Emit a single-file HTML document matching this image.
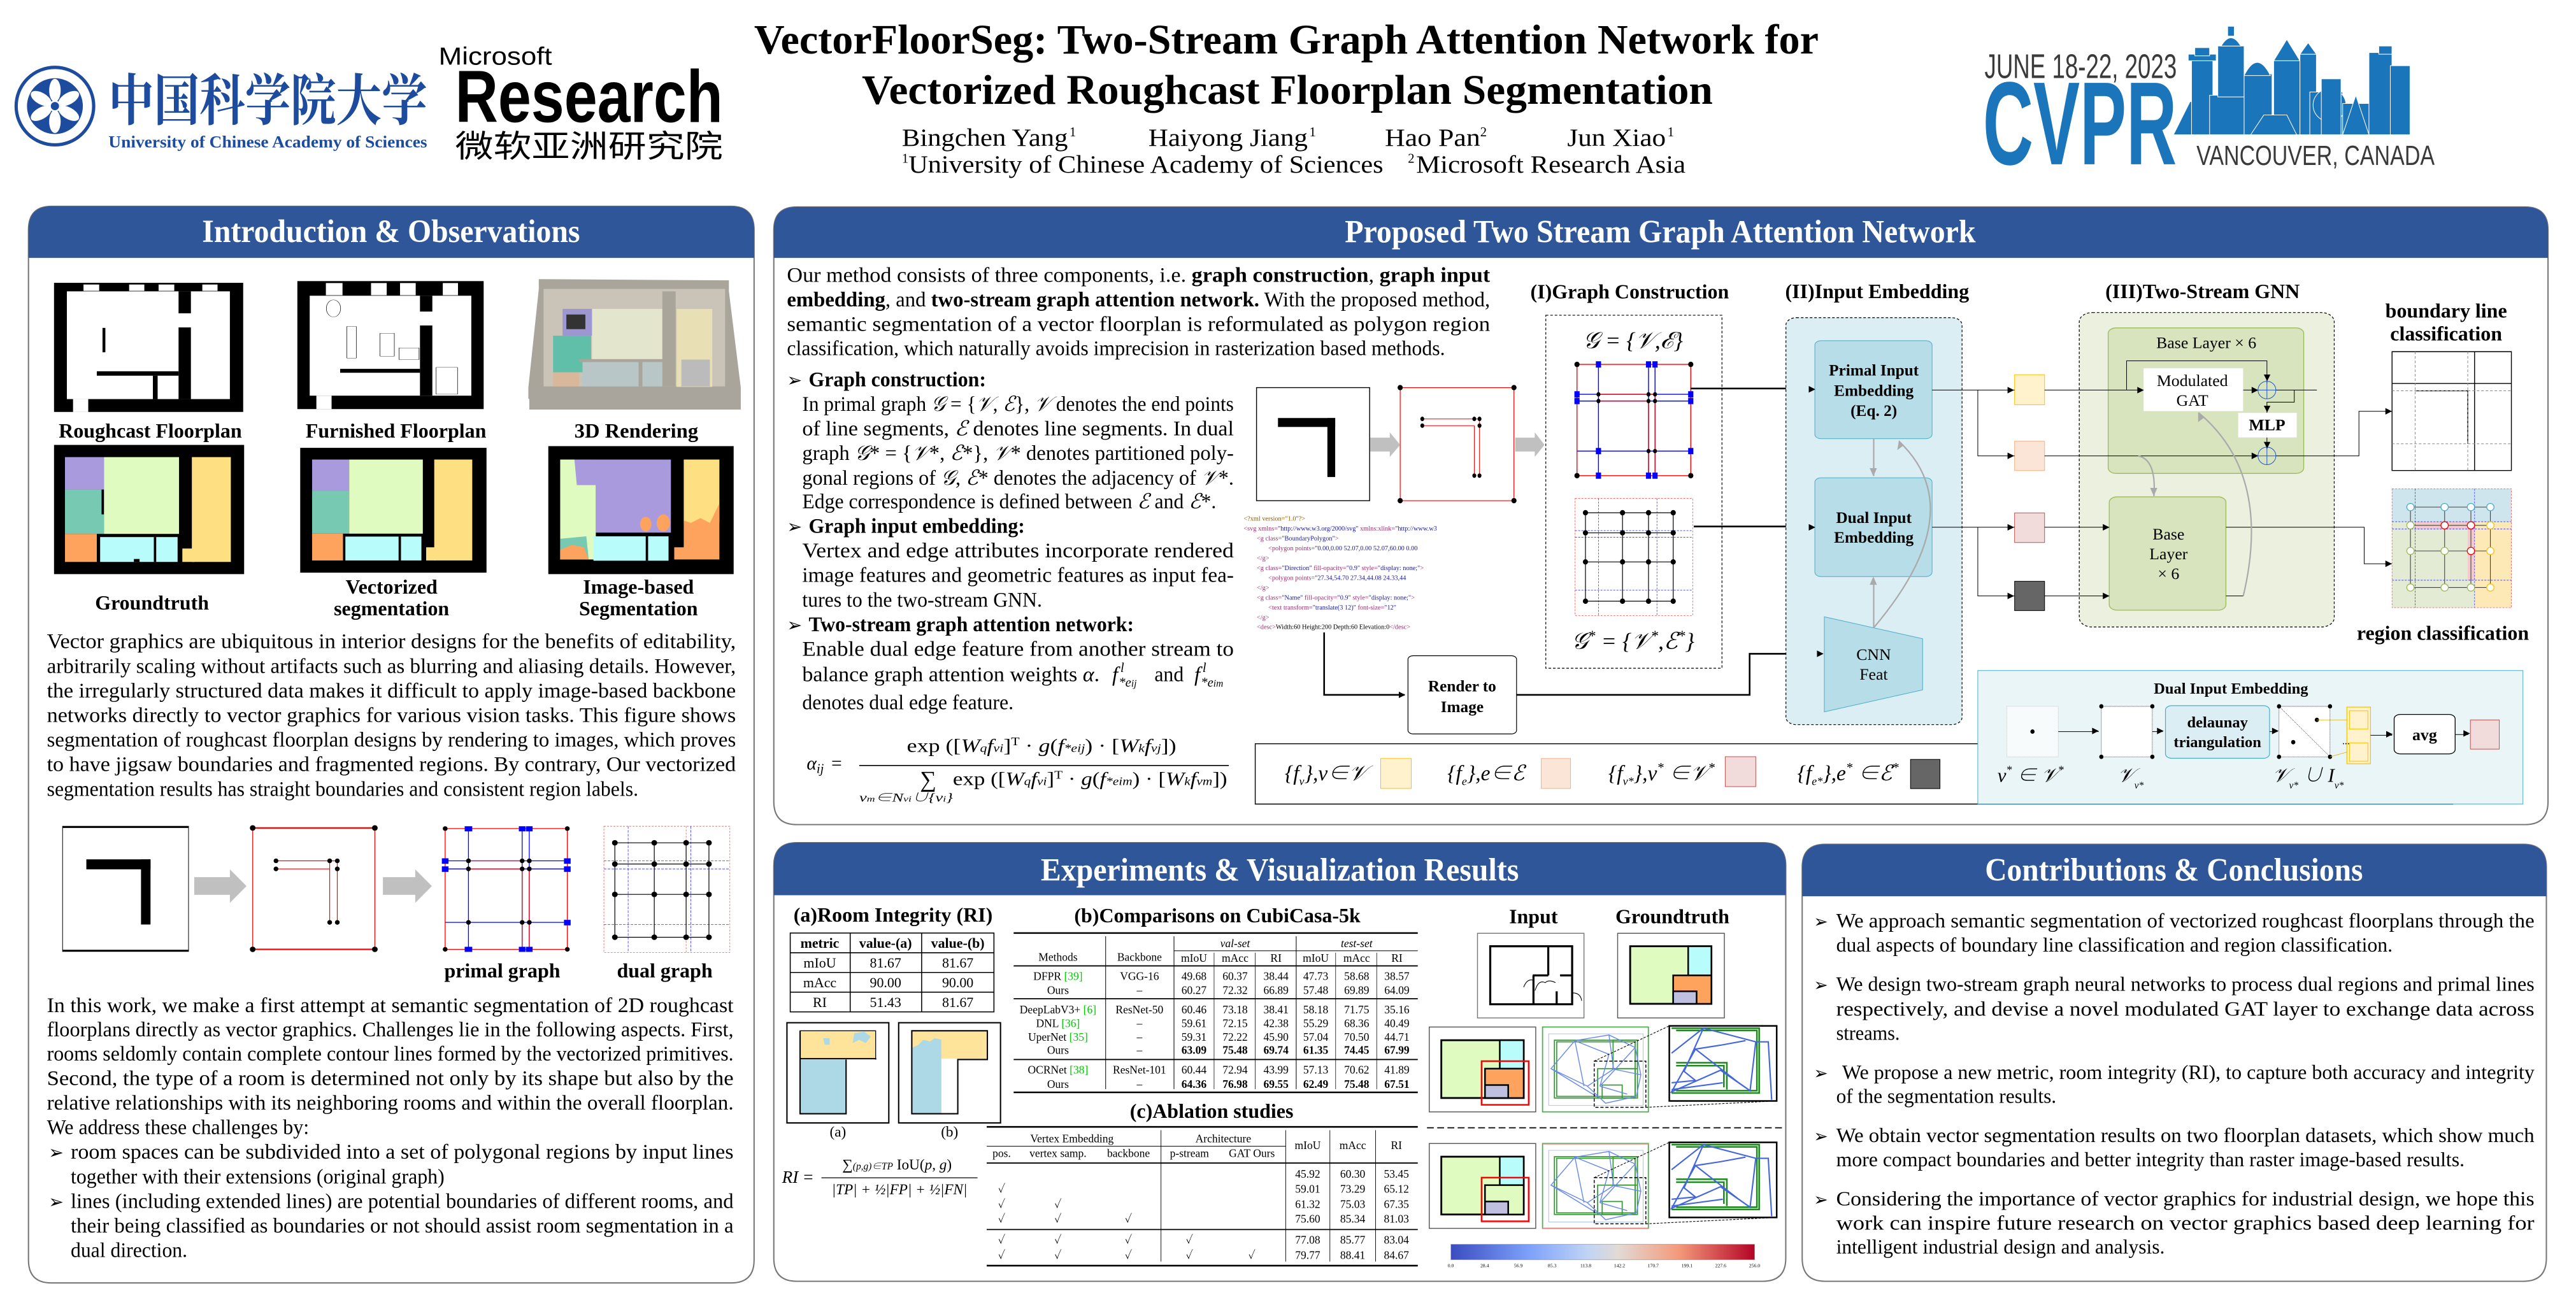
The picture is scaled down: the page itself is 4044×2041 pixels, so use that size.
<!DOCTYPE html>
<html><head><meta charset="utf-8">
<style>
html,body{margin:0;padding:0;background:#fff;}
svg{display:block;}
text{font-family:"Liberation Serif","Noto Serif CJK SC",serif;fill:#000;}
.ns *{vector-effect:non-scaling-stroke;}
.b{font-weight:bold;}
.h{font-weight:bold;fill:#fff;font-size:19.5px;}
.t{font-size:12.6px;}
.lb{font-weight:bold;font-size:12.4px;}
.tb{font-size:6.8px;}
.i{font-style:italic;}
.mono{font-family:"Liberation Mono",monospace;font-size:4px;}
</style></head>
<body>
<svg width="4044" height="2041" viewBox="0 0 1568 791.4" xmlns="http://www.w3.org/2000/svg">
<defs>
<linearGradient id="cb" x1="0" x2="1" y1="0" y2="0">
<stop offset="0" stop-color="#3b4cc0"/><stop offset="0.25" stop-color="#7b9ff9"/><stop offset="0.45" stop-color="#c0d4f5"/><stop offset="0.55" stop-color="#e2dad5"/><stop offset="0.75" stop-color="#f49a7b"/><stop offset="1" stop-color="#b40426"/>
</linearGradient>
<marker id="ah" viewBox="0 0 10 10" refX="9" refY="5" markerWidth="4" markerHeight="4" orient="auto"><path d="M0,0L10,5L0,10z" fill="#000"/></marker>
</defs>

<!-- ================= HEADER ================= -->
<circle cx="33.4" cy="64.6" r="23.6" fill="#fff" stroke="#1d4c9e" stroke-width="2"/>
<circle cx="33.4" cy="64.6" r="17" fill="#1d4c9e"/>
<g fill="#fff"><ellipse cx="33.4" cy="55" rx="3.5" ry="7"/><ellipse cx="33.4" cy="74" rx="3.5" ry="7"/><ellipse cx="25" cy="60" rx="3.5" ry="7" transform="rotate(-60 25 60)"/><ellipse cx="41.8" cy="60" rx="3.5" ry="7" transform="rotate(60 41.8 60)"/><ellipse cx="25" cy="69" rx="3.5" ry="7" transform="rotate(60 25 69)"/><ellipse cx="41.8" cy="69" rx="3.5" ry="7" transform="rotate(-60 41.8 69)"/></g>
<circle cx="33.4" cy="64.6" r="3" fill="#1d4c9e" stroke="#fff" stroke-width="1"/>
<text x="66" y="73" font-size="34" font-weight="bold" style="fill:#1d4c9e;font-family:'Noto Serif CJK SC','WenQuanYi Zen Hei',serif" textLength="194" lengthAdjust="spacingAndGlyphs">中国科学院大学</text>
<text x="66" y="89.8" font-size="10.3" class="b" style="fill:#1d4c9e" textLength="194" lengthAdjust="spacingAndGlyphs">University of  Chinese Academy of Sciences</text>
<text x="267" y="39.4" font-size="15" style="font-family:'Liberation Sans',sans-serif" textLength="69" lengthAdjust="spacingAndGlyphs">Microsoft</text>
<text x="277" y="74.3" font-size="45" font-weight="bold" style="font-family:'Liberation Sans',sans-serif" textLength="163" lengthAdjust="spacingAndGlyphs">Research</text>
<text x="277" y="95.5" font-size="19" style="font-family:'Noto Sans CJK SC','WenQuanYi Zen Hei',sans-serif" textLength="163" lengthAdjust="spacingAndGlyphs">微软亚洲研究院</text>

<text x="459" y="32.6" font-size="25.5" class="b" textLength="648" lengthAdjust="spacingAndGlyphs">VectorFloorSeg: Two-Stream Graph Attention Network for</text>
<text x="524.6" y="63.3" font-size="25.5" class="b" textLength="518" lengthAdjust="spacingAndGlyphs">Vectorized  Roughcast Floorplan Segmentation</text>
<g font-size="15">
<text x="549" y="88.8" textLength="101" lengthAdjust="spacingAndGlyphs">Bingchen Yang</text><text x="651" y="83" font-size="8">1</text>
<text x="699" y="88.8" textLength="97" lengthAdjust="spacingAndGlyphs">Haiyong Jiang</text><text x="797" y="83" font-size="8">1</text>
<text x="843" y="88.8" textLength="58" lengthAdjust="spacingAndGlyphs">Hao Pan</text><text x="901" y="83" font-size="8">2</text>
<text x="954" y="88.8" textLength="60" lengthAdjust="spacingAndGlyphs">Jun Xiao</text><text x="1015" y="83" font-size="8">1</text>
<text x="549" y="99" font-size="8">1</text><text x="553" y="105" textLength="289" lengthAdjust="spacingAndGlyphs">University of Chinese Academy of Sciences</text>
<text x="857" y="99" font-size="8">2</text><text x="862" y="105" textLength="164" lengthAdjust="spacingAndGlyphs">Microsoft Research Asia</text>
</g>

<!-- CVPR -->
<text x="1208" y="47.5" font-size="21" style="font-family:'Liberation Sans',sans-serif;fill:#3a3a3a" textLength="117" lengthAdjust="spacingAndGlyphs">JUNE 18-22, 2023</text>
<text x="1207" y="100" font-size="72" font-weight="bold" style="font-family:'Liberation Sans',sans-serif;fill:#1b75bb" textLength="118" lengthAdjust="spacingAndGlyphs">CVPR</text>
<text x="1337" y="100.5" font-size="17" style="font-family:'Liberation Sans',sans-serif;fill:#3a3a3a" textLength="145" lengthAdjust="spacingAndGlyphs">VANCOUVER, CANADA</text>
<g fill="#1b75bb" stroke="#fff" stroke-width="0.4">
<path d="M1323,82 L1333,62 L1345,58 L1345,82z"/>
<rect x="1334" y="36" width="13" height="46"/><rect x="1332" y="33" width="17" height="4"/><rect x="1336" y="29" width="9" height="5"/>
<rect x="1345" y="58" width="22" height="24"/>
<rect x="1350" y="28" width="16" height="31"/><path d="M1352,28 Q1358,18 1364,28z"/><rect x="1356" y="16" width="4" height="6"/>
<rect x="1366" y="45" width="17" height="37"/><path d="M1366,46 Q1374,30 1382,46z"/>
<rect x="1384" y="37" width="16" height="45"/><path d="M1384,37 L1392,24 L1400,37z"/>
<rect x="1400" y="33" width="10" height="49"/><path d="M1400,33 L1405,26 L1410,33z"/>
<rect x="1406" y="56" width="20" height="26"/><circle cx="1418" cy="64" r="10"/>
<rect x="1413" y="48" width="12" height="34"/>
<rect x="1426" y="63" width="16" height="19"/><path d="M1426,82 L1434,58 L1442,82z"/>
<rect x="1442" y="32" width="14" height="50"/><rect x="1448" y="28" width="8" height="5"/>
<rect x="1455" y="40" width="12" height="42"/>
<path d="M1370,82 L1378,70 L1392,70 L1398,82z"/>
</g>

<!-- ================= LEFT PANEL ================= -->
<path d="M17.3,140 Q17.3,125.6 31.3,125.6 L445,125.6 Q459,125.6 459,140 L459,767 Q459,781 445,781 L31.3,781 Q17.3,781 17.3,767z" fill="#fff" stroke="#777" stroke-width="0.8"/>
<path d="M17.3,140 Q17.3,125.6 31.3,125.6 L445,125.6 Q459,125.6 459,140 L459,157 L17.3,157z" fill="#30569a"/>
<text x="123" y="147.3" class="h" textLength="230" lengthAdjust="spacingAndGlyphs">Introduction &amp; Observations</text>

<g transform="translate(15.5,155.1) scale(0.2893,0.1484)">
 <rect x="60" y="115" width="398" height="530" fill="#000"/>
 <rect x="87" y="150" width="343" height="442" fill="#fff"/>
 <g fill="#fff"><rect x="122" y="122" width="33" height="26"/><rect x="218" y="122" width="32" height="26"/><rect x="280" y="122" width="33" height="26"/><rect x="372" y="122" width="32" height="26"/></g>
 <rect x="322" y="150" width="26" height="90" fill="#000"/><rect x="322" y="298" width="26" height="294" fill="#000"/>
 <rect x="150" y="478" width="172" height="18" fill="#000"/>
 <rect x="268" y="496" width="10" height="96" fill="#000"/>
 <rect x="162" y="300" width="6" height="100" fill="#000"/>
 <rect x="100" y="592" width="32" height="53" fill="#fff"/>
 <rect x="56" y="645" width="402" height="15" fill="#fff"/>
 <rect x="572" y="108" width="392" height="525" fill="#000"/>
 <rect x="598" y="168" width="340" height="410" fill="#fff"/>
 <g fill="#fff"><rect x="632" y="116" width="35" height="50"/><rect x="727" y="116" width="33" height="50"/><rect x="788" y="116" width="33" height="50"/><rect x="878" y="116" width="32" height="50"/></g>
 <rect x="830" y="168" width="26" height="65" fill="#000"/><rect x="830" y="290" width="26" height="288" fill="#000"/>
 <rect x="662" y="468" width="168" height="16" fill="#000"/>
 <g fill="none" stroke="#000" stroke-width="1"><ellipse cx="648" cy="220" rx="15" ry="35"/><rect x="676" y="294" width="20" height="130"/><rect x="746" y="322" width="30" height="94"/><rect x="864" y="462" width="45" height="110"/><rect x="786" y="382" width="42" height="48"/></g>
 <rect x="612" y="578" width="32" height="55" fill="#fff"/>
 <rect x="568" y="640" width="400" height="12" fill="#fff"/>
 <path d="M1080,100 L1480,105 L1480,150 L1505,545 L1500,600 L1475,635 L1100,635 L1058,590 L1058,545 L1080,140z" fill="#aaa59b"/>
 <rect x="1090" y="140" width="382" height="400" fill="#c9c4b7"/>
 <rect x="1130" y="222" width="62" height="110" fill="#9d97d1"/>
 <rect x="1110" y="332" width="80" height="150" fill="#5fbfa8"/>
 <rect x="1192" y="222" width="148" height="208" fill="#e3e6cc"/>
 <rect x="1370" y="222" width="75" height="320" fill="#e8e0b4"/>
 <rect x="1172" y="440" width="170" height="100" fill="#b8c6c8"/>
 <rect x="1110" y="482" width="55" height="58" fill="#d8b79a"/>
 <rect x="1340" y="150" width="28" height="390" fill="#aaa59b"/>
 <rect x="1165" y="428" width="180" height="12" fill="#aaa59b"/>
 <rect x="1290" y="440" width="8" height="100" fill="#aaa59b"/>
 <rect x="1138" y="245" width="40" height="60" fill="#333"/>
 <rect x="1380" y="430" width="60" height="110" fill="#bbb"/>
 <rect x="1060" y="545" width="445" height="90" fill="#a9a59c"/>
 <rect x="60" y="780" width="400" height="530" fill="#000"/>
 <rect x="83" y="830" width="82" height="133" fill="#a99ade"/>
 <rect x="83" y="963" width="82" height="182" fill="#77cab1"/>
 <rect x="165" y="830" width="158" height="315" fill="#e0fbbf"/>
 <rect x="160" y="963" width="5" height="102" fill="#000"/>
 <rect x="350" y="830" width="82" height="430" fill="#fee083"/>
 <rect x="330" y="1205" width="25" height="55" fill="#fee083"/>
 <rect x="83" y="1145" width="67" height="115" fill="#fda35e"/>
 <rect x="157" y="1158" width="163" height="102" fill="#b8fcfc"/>
 <rect x="270" y="1158" width="5" height="102" fill="#000"/>
 <rect x="228" y="1248" width="12" height="12" fill="#000"/>
 <rect x="578" y="792" width="392" height="512" fill="#000"/>
 <rect x="603" y="840" width="78" height="128" fill="#a99ade"/>
 <rect x="603" y="968" width="78" height="176" fill="#77cab1"/>
 <rect x="681" y="840" width="155" height="304" fill="#e0fbbf"/>
 <rect x="860" y="840" width="80" height="414" fill="#fee083"/>
 <rect x="843" y="1200" width="20" height="54" fill="#fee083"/>
 <rect x="603" y="1144" width="65" height="110" fill="#fda35e"/>
 <rect x="673" y="1156" width="160" height="98" fill="#b8fcfc"/>
 <rect x="785" y="1156" width="5" height="98" fill="#000"/>
 <rect x="1100" y="785" width="390" height="525" fill="#000"/>
 <rect x="1125" y="840" width="75" height="410" fill="#e0fbbf"/>
 <path d="M1155,840 L1358,840 L1358,1140 L1200,1140 L1200,945 L1160,945 z" fill="#a99ade"/>
 <rect x="1385" y="840" width="75" height="260" fill="#fee083"/>
 <path d="M1385,1090 L1400,1100 L1420,1080 L1440,1100 L1460,1020 L1460,1250 L1365,1250 L1365,1200 L1385,1200z" fill="#fda35e"/>
 <rect x="1195" y="1155" width="158" height="100" fill="#b8fcfc"/>
 <rect x="1305" y="1155" width="5" height="100" fill="#000"/>
 <path d="M1125,1165 L1180,1155 L1185,1250 L1125,1250z" fill="#77cab1"/>
 <path d="M1125,1210 L1150,1190 L1175,1200 L1185,1250 L1125,1250z" fill="#fda35e"/>
 <ellipse cx="1305" cy="1105" rx="12" ry="30" fill="#fda35e"/><ellipse cx="1342" cy="1100" rx="14" ry="35" fill="#fda35e"/>
</g>
<g class="lb">
<text x="35.7" y="266.4" textLength="111.5" lengthAdjust="spacingAndGlyphs">Roughcast Floorplan</text>
<text x="186" y="266.4" textLength="110" lengthAdjust="spacingAndGlyphs">Furnished Floorplan</text>
<text x="349.6" y="266.4" textLength="75.4" lengthAdjust="spacingAndGlyphs">3D Rendering</text>
<text x="92.5" y="371" text-anchor="middle">Groundtruth</text>
<text x="238.3" y="361.4" text-anchor="middle">Vectorized</text>
<text x="238.3" y="374.5" text-anchor="middle">segmentation</text>
<text x="388.6" y="361.4" text-anchor="middle">Image-based</text>
<text x="388.6" y="374.5" text-anchor="middle">Segmentation</text>
</g>

<g class="t">
<text x="28.5" y="394.6" textLength="419.4" lengthAdjust="spacingAndGlyphs">Vector graphics are ubiquitous in interior designs for the benefits of editability,</text>
<text x="28.5" y="409.6" textLength="419.4" lengthAdjust="spacingAndGlyphs">arbitrarily scaling without artifacts such as blurring and aliasing details. However,</text>
<text x="28.5" y="424.5" textLength="419.4" lengthAdjust="spacingAndGlyphs">the irregularly structured data makes it difficult to apply image-based backbone</text>
<text x="28.5" y="439.5" textLength="419.4" lengthAdjust="spacingAndGlyphs">networks directly to vector graphics for various vision tasks. This figure shows</text>
<text x="28.5" y="454.5" textLength="419.4" lengthAdjust="spacingAndGlyphs">segmentation of roughcast floorplan designs by rendering to images, which proves</text>
<text x="28.5" y="469.4" textLength="419.4" lengthAdjust="spacingAndGlyphs">to have jigsaw boundaries and fragmented regions. By contrary, Our vectorized</text>
<text x="28.5" y="484.4" textLength="360" lengthAdjust="spacingAndGlyphs">segmentation results has straight boundaries and consistent region labels.</text>
</g>

<g class="ns" transform="translate(15.5,492.4) scale(0.2893,0.1292)">
 <rect x="78" y="82" width="265" height="590" fill="#fff" stroke="#000" stroke-width="1"/>
 <rect x="78" y="82" width="265" height="8" fill="#000"/><rect x="78" y="664" width="265" height="8" fill="#000"/>
 <rect x="128" y="238" width="135" height="47" fill="#000"/><rect x="243" y="238" width="20" height="307" fill="#000"/>
 <path d="M355,322 L430,322 L430,285 L465,364 L430,443 L430,405 L355,405z" fill="#c0c0c0"/>
 <path d="M752,322 L820,322 L820,285 L855,364 L820,443 L820,405 L752,405z" fill="#c0c0c0"/>
 <g stroke="#f00" fill="none" stroke-width="1.2">
  <rect x="478" y="90" width="257" height="572"/>
  <path d="M527,245 H656 M527,283 H640 M640,245 V535 M656,245 V535"/>
 </g>
 <g stroke="#f00" stroke-width="2.2"><path d="M478,90 H735 M478,662 H735"/></g>
 <g fill="#000"><ellipse cx="478" cy="90" rx="6" ry="13"/><ellipse cx="735" cy="90" rx="6" ry="13"/><ellipse cx="478" cy="662" rx="6" ry="13"/><ellipse cx="735" cy="662" rx="6" ry="13"/><ellipse cx="527" cy="245" rx="5" ry="11"/><ellipse cx="527" cy="283" rx="5" ry="11"/><ellipse cx="640" cy="245" rx="5" ry="11"/><ellipse cx="656" cy="245" rx="5" ry="11"/><ellipse cx="656" cy="283" rx="5" ry="11"/><ellipse cx="640" cy="535" rx="5" ry="11"/><ellipse cx="656" cy="535" rx="5" ry="11"/></g>
 <g fill="none" stroke-width="1.3">
  <path d="M932,93 V662 M1045,93 V662 M1060,93 V662 M883,245 H1140 M883,283 H1140 M883,535 H1140" stroke="#00f"/>
  <path d="M883,93 H1140 V662 H883z M932,245 H1045 M932,283 H1045 M1045,283 V662 M1060,283 V662" stroke="#f00"/>
 </g>
 <g fill="#00f"><rect x="924" y="82" width="16" height="24"/><rect x="1038" y="82" width="14" height="24"/><rect x="1053" y="82" width="14" height="24"/><rect x="924" y="650" width="16" height="24"/><rect x="1038" y="650" width="14" height="24"/><rect x="1053" y="650" width="14" height="24"/><rect x="876" y="233" width="14" height="26"/><rect x="876" y="271" width="14" height="26"/><rect x="1133" y="233" width="14" height="26"/><rect x="1133" y="271" width="14" height="26"/><rect x="1133" y="523" width="14" height="26"/></g>
 <g fill="#000"><ellipse cx="883" cy="93" rx="5" ry="11"/><ellipse cx="1140" cy="93" rx="5" ry="11"/><ellipse cx="883" cy="662" rx="5" ry="11"/><ellipse cx="1140" cy="662" rx="5" ry="11"/><ellipse cx="932" cy="245" rx="5" ry="11"/><ellipse cx="932" cy="283" rx="5" ry="11"/><ellipse cx="1045" cy="245" rx="5" ry="11"/><ellipse cx="1060" cy="245" rx="5" ry="11"/><ellipse cx="1045" cy="283" rx="5" ry="11"/><ellipse cx="1060" cy="283" rx="5" ry="11"/><ellipse cx="932" cy="535" rx="5" ry="11"/><ellipse cx="1045" cy="535" rx="5" ry="11"/><ellipse cx="1060" cy="535" rx="5" ry="11"/></g>
 <rect x="1217" y="82" width="265" height="595" fill="none" stroke="#f55" stroke-dasharray="3 2" stroke-width="0.8"/>
 <path d="M1268,82 V677 M1400,82 V677 M1217,245 H1482 M1217,283 H1482 M1217,545 H1482" stroke="#33f" stroke-dasharray="4 2" stroke-width="0.8" fill="none"/>
 <path d="M1390,82 V677" stroke="#f55" stroke-dasharray="3 2" stroke-width="0.8"/>
 <path d="M1240,160 H1438 M1240,260 H1438 M1240,403 H1438 M1240,605 H1438 M1240,160 V605 M1323,160 V605 M1390,160 V605 M1438,160 V605" stroke="#000" stroke-width="1.2" fill="none"/>
 <g fill="#000">
  <ellipse cx="1240" cy="160" rx="6" ry="13"/><ellipse cx="1323" cy="160" rx="6" ry="13"/><ellipse cx="1390" cy="160" rx="6" ry="13"/><ellipse cx="1438" cy="160" rx="6" ry="13"/>
  <ellipse cx="1240" cy="260" rx="6" ry="13"/><ellipse cx="1323" cy="260" rx="6" ry="13"/><ellipse cx="1390" cy="260" rx="6" ry="13"/><ellipse cx="1438" cy="260" rx="6" ry="13"/>
  <ellipse cx="1240" cy="403" rx="6" ry="13"/><ellipse cx="1323" cy="403" rx="6" ry="13"/><ellipse cx="1390" cy="403" rx="6" ry="13"/><ellipse cx="1438" cy="403" rx="6" ry="13"/>
  <ellipse cx="1240" cy="605" rx="6" ry="13"/><ellipse cx="1323" cy="605" rx="6" ry="13"/><ellipse cx="1390" cy="605" rx="6" ry="13"/><ellipse cx="1438" cy="605" rx="6" ry="13"/>
 </g>
</g>
<text x="305.7" y="595" class="lb" text-anchor="middle">primal graph</text>
<text x="404.6" y="595" class="lb" text-anchor="middle">dual graph</text>

<g class="t">
<text x="28.5" y="616.1" textLength="418" lengthAdjust="spacingAndGlyphs">In this work, we make a first attempt at semantic segmentation of 2D roughcast</text>
<text x="28.5" y="630.8" textLength="418" lengthAdjust="spacingAndGlyphs">floorplans directly as vector  graphics. Challenges lie in the following aspects. First,</text>
<text x="28.5" y="645.6" textLength="418" lengthAdjust="spacingAndGlyphs">rooms seldomly contain complete contour lines formed by the vectorized primitives.</text>
<text x="28.5" y="660.5" textLength="418" lengthAdjust="spacingAndGlyphs">Second, the type of a room is determined not only by its shape but also by the</text>
<text x="28.5" y="675.4" textLength="418" lengthAdjust="spacingAndGlyphs">relative relationships with its neighboring rooms and within the overall floorplan.</text>
<text x="28.5" y="690.4" textLength="159.6" lengthAdjust="spacingAndGlyphs">We address these challenges by:</text>
<text x="29.5" y="705.4" font-size="11">➢</text>
<text x="43" y="705.4" textLength="403.5" lengthAdjust="spacingAndGlyphs">room spaces can be subdivided into a set of polygonal regions by input lines</text>
<text x="43" y="720.4" textLength="227.5" lengthAdjust="spacingAndGlyphs">together with their extensions (original graph)</text>
<text x="29.5" y="735.3" font-size="11">➢</text>
<text x="43" y="735.3" textLength="403.5" lengthAdjust="spacingAndGlyphs">lines (including extended lines) are potential boundaries of different rooms, and</text>
<text x="43" y="750.3" textLength="403.5" lengthAdjust="spacingAndGlyphs">their being classified as boundaries or not should assist room segmentation in a</text>
<text x="43" y="765.3" textLength="71" lengthAdjust="spacingAndGlyphs">dual direction.</text>
</g>

<!-- ================= RIGHT TOP PANEL ================= -->
<path d="M471,140 Q471,126 485,126 L1537,126 Q1551,126 1551,140 L1551,488 Q1551,502 1537,502 L485,502 Q471,502 471,488z" fill="#fff" stroke="#777" stroke-width="0.8"/>
<path d="M471,140 Q471,126 485,126 L1537,126 Q1551,126 1551,140 L1551,157 L471,157z" fill="#30569a"/>
<text x="818.6" y="147.6" class="h" textLength="384" lengthAdjust="spacingAndGlyphs">Proposed Two Stream Graph Attention Network</text>

<g class="t">
<text x="479" y="171.5" textLength="428" lengthAdjust="spacingAndGlyphs">Our method consists of three components, i.e. <tspan class="b">graph construction</tspan>, <tspan class="b">graph input</tspan></text>
<text x="479" y="186.5" textLength="428" lengthAdjust="spacingAndGlyphs"><tspan class="b">embedding</tspan>, and <tspan class="b">two-stream graph attention network.</tspan> With the proposed method,</text>
<text x="479" y="201.4" textLength="428" lengthAdjust="spacingAndGlyphs">semantic segmentation of a vector floorplan is reformulated as polygon region</text>
<text x="479" y="216.1" textLength="400.6" lengthAdjust="spacingAndGlyphs">classification, which naturally avoids imprecision in rasterization based methods.</text>
<text x="479" y="235.2" font-size="11">➢</text>
<text x="492.2" y="235.2" class="b" textLength="108" lengthAdjust="spacingAndGlyphs">Graph construction:</text>
<text x="488.3" y="250.1" textLength="262.7" lengthAdjust="spacingAndGlyphs">In primal graph <tspan class="i">𝒢</tspan> = {<tspan class="i">𝒱</tspan>, <tspan class="i">ℰ</tspan>}, <tspan class="i">𝒱</tspan> denotes the end points</text>
<text x="488.3" y="265.1" textLength="262.7" lengthAdjust="spacingAndGlyphs">of line segments, <tspan class="i">ℰ</tspan> denotes line segments. In dual</text>
<text x="488.3" y="280" textLength="262.7" lengthAdjust="spacingAndGlyphs">graph  <tspan class="i">𝒢</tspan>* = {<tspan class="i">𝒱</tspan>*, <tspan class="i">ℰ</tspan>*},  <tspan class="i">𝒱</tspan>* denotes  partitioned  poly-</text>
<text x="488.3" y="295" textLength="262.7" lengthAdjust="spacingAndGlyphs">gonal regions of  <tspan class="i">𝒢</tspan>, <tspan class="i">ℰ</tspan>* denotes the adjacency of <tspan class="i">𝒱</tspan>*.</text>
<text x="488.3" y="309.4" textLength="252" lengthAdjust="spacingAndGlyphs">Edge correspondence is defined between <tspan class="i">ℰ</tspan> and <tspan class="i">ℰ</tspan>*.</text>
<text x="479" y="324.4" font-size="11">➢</text>
<text x="492.2" y="324.4" class="b" textLength="131.6" lengthAdjust="spacingAndGlyphs">Graph input embedding:</text>
<text x="488.3" y="339.3" textLength="262.7" lengthAdjust="spacingAndGlyphs">Vertex  and  edge  attributes  incorporate  rendered</text>
<text x="488.3" y="354.3" textLength="262.7" lengthAdjust="spacingAndGlyphs">image features and geometric features as input fea-</text>
<text x="488.3" y="369.3" textLength="146" lengthAdjust="spacingAndGlyphs">tures to the two-stream GNN.</text>
<text x="479" y="384.2" font-size="11">➢</text>
<text x="492.2" y="384.2" class="b" textLength="198" lengthAdjust="spacingAndGlyphs">Two-stream graph attention network:</text>
<text x="488.3" y="399.2" textLength="262.7" lengthAdjust="spacingAndGlyphs">Enable dual edge feature from another stream to</text>
<text x="488.3" y="414.7" textLength="181" lengthAdjust="spacingAndGlyphs">balance graph attention weights <tspan class="i">α</tspan>.</text>
<text x="677" y="414.7" class="i">f</text><text x="682" y="409" class="i" font-size="8">l</text><text x="681" y="418" class="i" font-size="8">*e<tspan font-size="6">ij</tspan></text>
<text x="702.7" y="414.7" textLength="17.8" lengthAdjust="spacingAndGlyphs">and</text>
<text x="727" y="414.7" class="i">f</text><text x="732" y="409" class="i" font-size="8">l</text><text x="731" y="418" class="i" font-size="8">*e<tspan font-size="6">im</tspan></text>
<text x="488.3" y="431.8" textLength="128.6" lengthAdjust="spacingAndGlyphs">denotes dual edge feature.</text>
</g>
<g font-size="11.5">
<text x="491" y="468.5" class="i">α<tspan font-size="8" dy="2">ij</tspan></text>
<text x="506" y="468.5">=</text>
<line x1="523" y1="466" x2="748" y2="466" stroke="#000" stroke-width="0.6"/>
<text x="552" y="457.7" textLength="164" lengthAdjust="spacingAndGlyphs">exp ([<tspan class="i">W<tspan font-size="7">q</tspan>f<tspan font-size="7">vi</tspan></tspan>]<tspan font-size="7" dy="-4">T</tspan><tspan dy="4"> · </tspan><tspan class="i">g</tspan>(<tspan class="i">f<tspan font-size="7">*eij</tspan></tspan>) · [<tspan class="i">W<tspan font-size="7">k</tspan>f<tspan font-size="7">vj</tspan></tspan>])</text>
<text x="560" y="479" font-size="14">∑</text>
<text x="580" y="478" textLength="167" lengthAdjust="spacingAndGlyphs">exp ([<tspan class="i">W<tspan font-size="7">q</tspan>f<tspan font-size="7">vi</tspan></tspan>]<tspan font-size="7" dy="-4">T</tspan><tspan dy="4"> · </tspan><tspan class="i">g</tspan>(<tspan class="i">f<tspan font-size="7">*eim</tspan></tspan>) · [<tspan class="i">W<tspan font-size="7">k</tspan>f<tspan font-size="7">vm</tspan></tspan>])</text>
<text x="523" y="488" font-size="7.5" class="i" textLength="57" lengthAdjust="spacingAndGlyphs">v<tspan font-size="5">m</tspan>∈N<tspan font-size="5">vi</tspan>∪{v<tspan font-size="5">i</tspan>}</text>
</g>

<g class="ns" transform="translate(465.3,116.3) scale(0.3957,0.272)">
 <rect x="757" y="440" width="174" height="253" fill="#fff" stroke="#000" stroke-width="1.4"/>
 <rect x="790" y="508" width="88" height="20" fill="#000"/><rect x="866" y="508" width="12" height="132" fill="#000"/>
 <rect x="978" y="440" width="175" height="253" fill="none" stroke="#f00" stroke-width="1.2"/>
 <path d="M1012,510 H1100 M1012,525 H1092 M1092,525 V637 M1100,510 V637" stroke="#f00" stroke-width="1" fill="none"/>
 <g fill="#000"><ellipse cx="978" cy="440" rx="4" ry="6"/><ellipse cx="1153" cy="440" rx="4" ry="6"/><ellipse cx="978" cy="693" rx="4" ry="6"/><ellipse cx="1153" cy="693" rx="4" ry="6"/><ellipse cx="1012" cy="510" rx="3" ry="5"/><ellipse cx="1012" cy="525" rx="3" ry="5"/><ellipse cx="1092" cy="510" rx="3" ry="5"/><ellipse cx="1100" cy="510" rx="3" ry="5"/><ellipse cx="1100" cy="525" rx="3" ry="5"/><ellipse cx="1092" cy="637" rx="3" ry="5"/><ellipse cx="1100" cy="637" rx="3" ry="5"/></g>
 <path d="M932,552 L962,552 L962,540 L978,568 L962,595 L962,583 L932,583z" fill="#c0c0c0"/>
 <path d="M1155,552 L1185,552 L1185,540 L1200,568 L1185,595 L1185,583 L1155,583z" fill="#c0c0c0"/>
 <rect x="1202" y="278" width="271" height="790" fill="#fff" stroke="#000" stroke-width="1.2" stroke-dasharray="4 3"/>
 <g fill="none" stroke-width="1.4">
  <path d="M1283,388 V637 M1360,388 V637 M1370,388 V637 M1250,455 H1425 M1250,470 H1425 M1250,582 H1425" stroke="#00f"/>
  <path d="M1250,388 H1425 V637 H1250z M1283,455 H1370 M1283,470 H1360 M1360,470 V637 M1370,455 V637" stroke="#f00"/>
 </g>
 <g fill="#00f"><rect x="1279" y="381" width="8" height="14"/><rect x="1356" y="381" width="8" height="14"/><rect x="1366" y="381" width="8" height="14"/><rect x="1279" y="630" width="8" height="14"/><rect x="1356" y="630" width="8" height="14"/><rect x="1366" y="630" width="8" height="14"/><rect x="1246" y="448" width="8" height="14"/><rect x="1246" y="463" width="8" height="14"/><rect x="1421" y="448" width="8" height="14"/><rect x="1421" y="463" width="8" height="14"/><rect x="1421" y="575" width="8" height="14"/><rect x="1279" y="575" width="8" height="14"/></g>
 <g fill="#000"><ellipse cx="1250" cy="388" rx="4" ry="6"/><ellipse cx="1425" cy="388" rx="4" ry="6"/><ellipse cx="1250" cy="637" rx="4" ry="6"/><ellipse cx="1425" cy="637" rx="4" ry="6"/><ellipse cx="1283" cy="455" rx="3" ry="5"/><ellipse cx="1360" cy="455" rx="3" ry="5"/><ellipse cx="1370" cy="455" rx="3" ry="5"/><ellipse cx="1283" cy="470" rx="3" ry="5"/><ellipse cx="1360" cy="470" rx="3" ry="5"/><ellipse cx="1370" cy="470" rx="3" ry="5"/><ellipse cx="1360" cy="582" rx="3" ry="5"/><ellipse cx="1370" cy="582" rx="3" ry="5"/></g>
 <rect x="1247" y="688" width="181" height="262" fill="none" stroke="#f55" stroke-width="0.8" stroke-dasharray="3 2"/>
 <path d="M1283,688 V950 M1373,688 V950 M1247,760 H1428 M1247,775 H1428 M1247,893 H1428" stroke="#33f" stroke-width="0.8" stroke-dasharray="3 2" fill="none"/>
 <path d="M1263,720 H1398 M1263,765 H1398 M1263,830 H1398 M1263,918 H1398 M1263,720 V918 M1320,720 V918 M1360,720 V918 M1398,720 V918" stroke="#000" stroke-width="1.2" fill="none"/>
 <g fill="#000">
  <ellipse cx="1263" cy="720" rx="4" ry="6"/><ellipse cx="1320" cy="720" rx="4" ry="6"/><ellipse cx="1360" cy="720" rx="4" ry="6"/><ellipse cx="1398" cy="720" rx="4" ry="6"/>
  <ellipse cx="1263" cy="765" rx="4" ry="6"/><ellipse cx="1320" cy="765" rx="4" ry="6"/><ellipse cx="1360" cy="765" rx="4" ry="6"/><ellipse cx="1398" cy="765" rx="4" ry="6"/>
  <ellipse cx="1263" cy="830" rx="4" ry="6"/><ellipse cx="1320" cy="830" rx="4" ry="6"/><ellipse cx="1360" cy="830" rx="4" ry="6"/><ellipse cx="1398" cy="830" rx="4" ry="6"/>
  <ellipse cx="1263" cy="918" rx="4" ry="6"/><ellipse cx="1320" cy="918" rx="4" ry="6"/><ellipse cx="1360" cy="918" rx="4" ry="6"/><ellipse cx="1398" cy="918" rx="4" ry="6"/>
 </g>
 <rect x="990" y="1040" width="167" height="175" rx="8" fill="#fff" stroke="#000" stroke-width="1.2"/>
 <rect x="755" y="1237" width="1842" height="135" fill="#fff" stroke="#000" stroke-width="1.4"/>
 <rect x="948" y="1270" width="47" height="67" fill="#fff2cc" stroke="#ffc000" stroke-width="1"/>
 <rect x="1195" y="1270" width="45" height="67" fill="#fbe5d6" stroke="#f4b183" stroke-width="1"/>
 <rect x="1478" y="1266" width="47" height="67" fill="#f2dcdb" stroke="#c0504d" stroke-width="1"/>
</g>
<rect x="752" y="311" width="171" height="74" fill="#fff"/>
<g class="mono">
<text x="757" y="317" style="fill:#8a5a00">&lt;?xml version="1.0"?&gt;</text>
<text x="757" y="323" style="fill:#a0306e">&lt;svg xmlns=<tspan style="fill:#1a1aa6">"http://www.w3.org/2000/svg"</tspan> xmlns:xlink=<tspan style="fill:#1a1aa6">"http://www.w3</tspan></text>
<text x="765" y="329" style="fill:#a0306e">&lt;g class=<tspan style="fill:#1a1aa6">"BoundaryPolygon"</tspan>&gt;</text>
<text x="772" y="335" style="fill:#a0306e">&lt;polygon points=<tspan style="fill:#1a1aa6">"0.00,0.00 52.07,0.00 52.07,60.00 0.00</tspan></text>
<text x="765" y="341" style="fill:#a0306e">&lt;/g&gt;</text>
<text x="765" y="347" style="fill:#a0306e">&lt;g class=<tspan style="fill:#1a1aa6">"Direction"</tspan> fill-opacity=<tspan style="fill:#1a1aa6">"0.9"</tspan> style=<tspan style="fill:#1a1aa6">"display: none;"</tspan>&gt;</text>
<text x="772" y="353" style="fill:#a0306e">&lt;polygon points=<tspan style="fill:#1a1aa6">"27.34,54.70 27.34,44.08 24.33,44</tspan></text>
<text x="765" y="359" style="fill:#a0306e">&lt;/g&gt;</text>
<text x="765" y="365" style="fill:#a0306e">&lt;g class=<tspan style="fill:#1a1aa6">"Name"</tspan> fill-opacity=<tspan style="fill:#1a1aa6">"0.9"</tspan> style=<tspan style="fill:#1a1aa6">"display: none;"</tspan>&gt;</text>
<text x="772" y="371" style="fill:#a0306e">&lt;text transform=<tspan style="fill:#1a1aa6">"translate(3 12)"</tspan> font-size=<tspan style="fill:#1a1aa6">"12"</tspan></text>
<text x="765" y="377" style="fill:#a0306e">&lt;/g&gt;</text>
<text x="765" y="383" style="fill:#a0306e">&lt;desc&gt;<tspan style="fill:#000">Width:60 Height:200 Depth:60 Elevation:0</tspan>&lt;/desc&gt;</text>
</g>
<text x="992" y="181.6" class="lb" text-anchor="middle">(I)Graph Construction</text>
<text x="994" y="212" font-size="14" text-anchor="middle" class="i">𝒢 = {𝒱,ℰ}</text>
<text x="994" y="395" font-size="14" text-anchor="middle" class="i">𝒢<tspan font-size="9" dy="-5">*</tspan><tspan dy="5"> = {𝒱</tspan><tspan font-size="9" dy="-5">*</tspan><tspan dy="5">,ℰ</tspan><tspan font-size="9" dy="-5">*</tspan><tspan dy="5">}</tspan></text>
<text x="890" y="421" font-size="9.8" class="b" text-anchor="middle">Render to</text>
<text x="890" y="433.5" font-size="9.8" class="b" text-anchor="middle">Image</text>
<g stroke="#000" stroke-width="1" fill="none">
<path d="M806,385 V423 H855" marker-end="url(#ah)"/>
<path d="M923,423 H1065 V398 H1108" marker-end="url(#ah)"/>
<path d="M1029,236.5 H1103" marker-end="url(#ah)"/>
<path d="M1031,320.5 H1103" marker-end="url(#ah)"/>
</g>
<g font-size="13" class="i">
<text x="782" y="475">{<tspan class="i">f</tspan><tspan font-size="7" dy="3">v</tspan><tspan dy="-3">},</tspan>v∈𝒱</text>
<text x="881" y="475">{f<tspan font-size="7" dy="3">e</tspan><tspan dy="-3">},</tspan>e∈ℰ</text>
<text x="979" y="475">{f<tspan font-size="7" dy="3">v*</tspan><tspan dy="-3">},</tspan>v<tspan font-size="8" dy="-5">*</tspan><tspan dy="5"> ∈𝒱</tspan><tspan font-size="8" dy="-5">*</tspan></text>
<text x="1094" y="475">{f<tspan font-size="7" dy="3">e*</tspan><tspan dy="-3">},</tspan>e<tspan font-size="8" dy="-5">*</tspan><tspan dy="5"> ∈ℰ</tspan><tspan font-size="8" dy="-5">*</tspan></text>
</g>

<g class="ns" transform="translate(1066.3,155.1) scale(0.32,0.2226)">
 <rect x="65" y="172" width="335" height="1113" rx="20" fill="#dbeef4" stroke="#000" stroke-width="1.2" stroke-dasharray="4 3"/>
 <rect x="120" y="235" width="223" height="268" rx="12" fill="#b7dde8" stroke="#4bacc6" stroke-width="1"/>
 <rect x="120" y="610" width="223" height="270" rx="12" fill="#b7dde8" stroke="#4bacc6" stroke-width="1"/>
 <path d="M138,990 L325,1050 L325,1190 L138,1250z" fill="#b7dde8" stroke="#4bacc6" stroke-width="1"/>
 <rect x="623" y="158" width="485" height="860" rx="25" fill="#ebf1de" stroke="#000" stroke-width="1.2" stroke-dasharray="4 3"/>
 <rect x="678" y="200" width="372" height="398" rx="15" fill="#d7e4bd" stroke="#9bbb59" stroke-width="1.3"/>
 <rect x="680" y="662" width="222" height="310" rx="15" fill="#d7e4bd" stroke="#9bbb59" stroke-width="1.3"/>
 <rect x="745" y="310" width="190" height="118" fill="#fff" stroke="#ddd" stroke-width="0.6"/>
 <rect x="925" y="432" width="112" height="68" fill="#fff" stroke="#ddd" stroke-width="0.6"/>
 <rect x="500" y="328" width="57" height="82" fill="#fff2cc" stroke="#ffc000" stroke-width="1"/>
 <rect x="500" y="510" width="57" height="80" fill="#fbe5d6" stroke="#f4b183" stroke-width="1"/>
 <rect x="500" y="706" width="57" height="81" fill="#f2dcdb" stroke="#c0504d" stroke-width="1"/>
 <rect x="500" y="893" width="57" height="80" fill="#666" stroke="#000" stroke-width="1"/>
 <g stroke="#000" stroke-width="1" fill="none">
  <path d="M343,370 H500 M430,370 V550 H500 M343,745 H500 M430,745 V933 H500"/>
  <path d="M557,370 H745 M713,370 V290 H980 V352 M935,370 H962 M997,370 H1075 M1032,370 V403 H980 V432 M980,500 V532"/>
  <path d="M557,550 H962 M997,550 H1155 V428 H1218"/>
  <path d="M557,745 H680 M557,933 H680 M902,745 H1165 V845 H1218 M902,933 H935"/>
 </g>
 <g stroke="#aaa" stroke-width="2.2" fill="none">
  <path d="M232,503 V605"/><path d="M232,1020 V885"/>
  <path d="M232,1020 Q420,700 280,510"/>
  <path d="M735,550 Q770,560 765,660"/>
  <path d="M935,933 Q990,600 850,432"/>
 </g>
 <g fill="none" stroke="#2255cc" stroke-width="1"><ellipse cx="980" cy="370" rx="17" ry="24"/><ellipse cx="980" cy="550" rx="17" ry="24"/><path d="M963,370 H997 M980,346 V394 M963,550 H997 M980,526 V574"/></g>
 <rect x="1218" y="265" width="227" height="325" fill="#fff" stroke="#000" stroke-width="1.4"/>
 <path d="M1218,352 H1445 M1262,372 H1362 V517 M1375,265 V590" stroke="#000" stroke-width="1.4" fill="none"/>
 <path d="M1262,265 V590 M1362,265 V590 M1218,372 H1445 M1218,517 H1445" stroke="#888" stroke-width="1" stroke-dasharray="4 3" fill="none"/>
 <rect x="1218" y="640" width="227" height="90" fill="#cfe5ee"/>
 <rect x="1218" y="730" width="227" height="235" fill="#e3ebd5"/>
 <rect x="1375" y="730" width="70" height="235" fill="#fde9b5"/>
 <rect x="1262" y="730" width="112" height="20" fill="#f4c9c9"/>
 <rect x="1362" y="730" width="13" height="160" fill="#f4c9c9"/>
 <rect x="1218" y="640" width="227" height="325" fill="none" stroke="#f55" stroke-width="0.8" stroke-dasharray="3 2"/>
 <path d="M1262,640 V965 M1375,640 V965 M1218,730 H1445 M1218,750 H1445 M1218,890 H1445" stroke="#33f" stroke-width="0.8" stroke-dasharray="3 2" fill="none"/>
 <path d="M1253,690 H1405 M1253,740 H1405 M1253,810 H1405 M1253,910 H1405 M1253,690 V910 M1318,690 V910 M1368,690 V910 M1405,690 V910" stroke="#444" stroke-width="1.1" fill="none"/>
 <g stroke-width="1.3" fill="#fff">
  <ellipse cx="1253" cy="690" rx="7" ry="10" stroke="#4bacc6"/><ellipse cx="1318" cy="690" rx="7" ry="10" stroke="#4bacc6"/><ellipse cx="1368" cy="690" rx="7" ry="10" stroke="#4bacc6"/><ellipse cx="1405" cy="690" rx="7" ry="10" stroke="#4bacc6"/>
  <ellipse cx="1253" cy="740" rx="7" ry="10" stroke="#9bbb59"/><ellipse cx="1318" cy="740" rx="7" ry="10" stroke="#f00"/><ellipse cx="1368" cy="740" rx="7" ry="10" stroke="#f00"/><ellipse cx="1405" cy="740" rx="7" ry="10" stroke="#ffc000"/>
  <ellipse cx="1253" cy="810" rx="7" ry="10" stroke="#9bbb59"/><ellipse cx="1318" cy="810" rx="7" ry="10" stroke="#9bbb59"/><ellipse cx="1368" cy="810" rx="7" ry="10" stroke="#f00"/><ellipse cx="1405" cy="810" rx="7" ry="10" stroke="#ffc000"/>
  <ellipse cx="1253" cy="910" rx="7" ry="10" stroke="#9bbb59"/><ellipse cx="1318" cy="910" rx="7" ry="10" stroke="#9bbb59"/><ellipse cx="1368" cy="910" rx="7" ry="10" stroke="#9bbb59"/><ellipse cx="1405" cy="910" rx="7" ry="10" stroke="#ffc000"/>
 </g>
 <rect x="302" y="1380" width="56" height="80" fill="#666" stroke="#000" stroke-width="1"/>
 <rect x="430" y="1137" width="1037" height="365" fill="#eaf5f8" stroke="#4bacc6" stroke-width="1"/>
 <rect x="485" y="1235" width="98" height="138" fill="#f7fbfb" stroke="#aaa" stroke-width="0.6" stroke-dasharray="1 1"/>
 <ellipse cx="534" cy="1304" rx="4" ry="6" fill="#000"/>
 <rect x="665" y="1235" width="97" height="138" fill="#fff" stroke="#000" stroke-width="0.7" stroke-dasharray="1 1"/>
 <rect x="787" y="1233" width="198" height="144" rx="12" fill="#dbeef4" stroke="#4bacc6" stroke-width="1.2"/>
 <rect x="1003" y="1235" width="97" height="138" fill="#fff" stroke="#000" stroke-width="0.7" stroke-dasharray="1 1"/>
 <path d="M1003,1235 L1100,1373" stroke="#000" stroke-width="0.6" stroke-dasharray="1 1"/>
 <g fill="#000"><ellipse cx="665" cy="1235" rx="4" ry="6"/><ellipse cx="762" cy="1235" rx="4" ry="6"/><ellipse cx="665" cy="1373" rx="4" ry="6"/><ellipse cx="762" cy="1373" rx="4" ry="6"/><ellipse cx="1003" cy="1235" rx="4" ry="6"/><ellipse cx="1100" cy="1235" rx="4" ry="6"/><ellipse cx="1003" cy="1373" rx="4" ry="6"/><ellipse cx="1100" cy="1373" rx="4" ry="6"/><ellipse cx="1075" cy="1272" rx="4" ry="6"/><ellipse cx="1030" cy="1333" rx="4" ry="6"/></g>
 <rect x="1132" y="1237" width="45" height="155" fill="#fff2cc" stroke="#ffc000" stroke-width="1.2"/>
 <rect x="1137" y="1247" width="35" height="50" fill="#fff2cc" stroke="#ffc000" stroke-width="1"/>
 <rect x="1137" y="1335" width="35" height="50" fill="#fff2cc" stroke="#ffc000" stroke-width="1"/>
 <rect x="1222" y="1257" width="116" height="108" rx="12" fill="#fff" stroke="#000" stroke-width="1.3"/>
 <rect x="1367" y="1272" width="55" height="80" fill="#f2dcdb" stroke="#c0504d" stroke-width="1"/>
 <g stroke="#000" stroke-width="1" fill="none"><path d="M583,1304 H660 M762,1304 H782 M985,1304 H1000 M1177,1314 H1218 M1338,1312 H1363"/></g>
 <g stroke="#e0b000" stroke-width="0.8" fill="none"><path d="M1075,1272 H1132 M1100,1373 L1132,1360"/></g>
</g>
<g fill="#000">
<path d="M1105,237 l-4,-2 v4z"/><path d="M1105,321 l-4,-2 v4z"/><path d="M1110,398 l-4,-2 v4z"/>
<path d="M1226,237.5 l-4,-2 v4z"/><path d="M1226,277.5 l-4,-2 v4z"/><path d="M1226,321 l-4,-2 v4z"/><path d="M1226,362.8 l-4,-2 v4z"/>
<path d="M1305,237.5 l-4,-2 v4z"/><path d="M1374.6,237.5 l-4,-2 v4z"/><path d="M1374.6,277.5 l-4,-2 v4z"/>
<path d="M1380,232 l-2,-4 h4z"/><path d="M1380,251 l-2,-4 h4z"/><path d="M1380,273 l-2,-4 h4z"/>
<path d="M1284,321 l-4,-2 v4z"/><path d="M1284,362.8 l-4,-2 v4z"/>
<path d="M1456,250.4 l-4,-2 v4z"/><path d="M1456,343.2 l-4,-2 v4z"/>
<path d="M1277.5,445 l-4,-2 v4z"/><path d="M1317,445 l-4,-2 v4z"/><path d="M1387,445 l-4,-2 v4z"/><path d="M1456.5,447 l-4,-2 v4z"/><path d="M1503.5,446.5 l-4,-2 v4z"/>
</g>
<g fill="#aaa"><path d="M1140.3,290 l-2.2,-5 h4.4z"/><path d="M1140.3,351 l-2.2,5 h4.4z"/><path d="M1155.9,268 l-1,6 l4,-3z"/><path d="M1311,302 l-2.2,-5 h4.4z"/><path d="M1338,251 l0,6 l4,-3z"/></g>

<g class="lb">
<text x="1142.6" y="181.4" text-anchor="middle">(II)Input Embedding</text>
<text x="1340.7" y="181.4" text-anchor="middle">(III)Two-Stream  GNN</text>
</g>
<g font-size="9.8" class="b" text-anchor="middle">
<text x="1140.6" y="228.6">Primal Input</text><text x="1140.6" y="240.9">Embedding</text><text x="1140.6" y="253.2">(Eq. 2)</text>
<text x="1140.6" y="318.3">Dual Input</text><text x="1140.6" y="330.4">Embedding</text>
</g>
<g font-size="10" text-anchor="middle">
<text x="1140.5" y="401.8">CNN</text><text x="1140.5" y="413.8">Feat</text>
<text x="1343" y="212">Base Layer  × 6</text>
<text x="1334.5" y="235">Modulated</text><text x="1334.5" y="247">GAT</text>
<text x="1380" y="262" class="b">MLP</text>
<text x="1320" y="328.5">Base</text><text x="1320" y="340.5">Layer</text><text x="1320" y="352.5">× 6</text>
</g>
<text x="1489" y="193.2" class="lb" font-size="11.5" text-anchor="middle">boundary line</text>
<text x="1489" y="207.2" class="lb" font-size="11.5" text-anchor="middle">classification</text>
<text x="1487" y="389.5" class="lb" font-size="11.5" text-anchor="middle">region classification</text>
<text x="1358" y="422.3" font-size="9.5" class="b" text-anchor="middle">Dual Input Embedding</text>
<text x="1349.8" y="442.8" font-size="9.5" class="b" text-anchor="middle">delaunay</text>
<text x="1349.8" y="454.8" font-size="9.5" class="b" text-anchor="middle">triangulation</text>
<text x="1475.9" y="450.5" font-size="10" class="b" text-anchor="middle">avg</text>
<text x="1428" y="453" font-size="6" text-anchor="middle">...</text>
<g font-size="12" class="i" text-anchor="middle">
<text x="1236" y="476">v<tspan font-size="7" dy="-5">*</tspan><tspan dy="5"> ∈ 𝒱</tspan><tspan font-size="7" dy="-5">*</tspan></text>
<text x="1297" y="476">𝒱<tspan font-size="6" dy="4">v*</tspan></text>
<text x="1405" y="476">𝒱<tspan font-size="6" dy="4">v*</tspan><tspan dy="-4"> ∪ I</tspan><tspan font-size="6" dy="4">v*</tspan></text>
</g>

<!-- ================= EXPERIMENTS PANEL ================= -->
<path d="M471,527 Q471,513 485,513 L1073,513 Q1087,513 1087,527 L1087,766 Q1087,780 1073,780 L485,780 Q471,780 471,766z" fill="#fff" stroke="#777" stroke-width="0.8"/>
<path d="M471,527 Q471,513 485,513 L1073,513 Q1087,513 1087,527 L1087,545 L471,545z" fill="#30569a"/>
<text x="633.5" y="536" class="h" textLength="291" lengthAdjust="spacingAndGlyphs">Experiments &amp; Visualization Results</text>

<g class="lb" font-size="12">
<text x="543.6" y="561" text-anchor="middle">(a)Room Integrity (RI)</text>
<text x="741" y="561.5" text-anchor="middle">(b)Comparisons on CubiCasa-5k</text>
<text x="737.5" y="680.5" text-anchor="middle">(c)Ablation studies</text>
<text x="933.4" y="562" text-anchor="middle">Input</text>
<text x="1018" y="562" text-anchor="middle">Groundtruth</text>
</g>
<g stroke="#000" stroke-width="0.6" fill="none">
<rect x="481" y="568" width="124" height="48"/>
<path d="M481,580 H605 M481,592 H605 M481,604 H605 M517.5,568 V616 M561,568 V616"/>
</g>
<g font-size="8.5" text-anchor="middle">
<text x="499" y="577" class="b">metric</text><text x="539" y="577" class="b">value-(a)</text><text x="583" y="577" class="b">value-(b)</text>
<text x="499" y="589">mIoU</text><text x="539" y="589">81.67</text><text x="583" y="589">81.67</text>
<text x="499" y="601">mAcc</text><text x="539" y="601">90.00</text><text x="583" y="601">90.00</text>
<text x="499" y="613">RI</text><text x="539" y="613">51.43</text><text x="583" y="613">81.67</text>
</g>
<rect x="479" y="622.6" width="62" height="61" fill="#fff" stroke="#000" stroke-width="0.8"/>
<rect x="487" y="627.5" width="46" height="17" fill="#fde49a" stroke="#000" stroke-width="0.5"/>
<path d="M487,645 H533 V645 H515 V678 H487z" fill="#add8e6"/>
<path d="M487,644.5 H533 V645 M515,645 V678 H487 V627.5" stroke="#000" stroke-width="0.8" fill="none"/>
<path d="M520,629 l6,-1 l4,3 l-3,4 l-4,-2 l-4,2z M501,632 l4,0 l0,4 l-3,0z" fill="#add8e6"/>
<rect x="547" y="622.6" width="62" height="61" fill="#fff" stroke="#000" stroke-width="0.8"/>
<rect x="555" y="627.5" width="46" height="17" fill="#fde49a"/>
<path d="M555,638 l4,-2 l3,-3 l4,1 l3,-2 l4,1 V678 H555z" fill="#add8e6"/>
<path d="M555,627.5 H601 V645 H583 V678 H555z" stroke="#000" stroke-width="0.8" fill="none"/>
<text x="510" y="692" font-size="9" text-anchor="middle">(a)</text><text x="578" y="692" font-size="9" text-anchor="middle">(b)</text>
<g font-size="10.5">
<text x="476" y="720" class="i">RI</text><text x="489" y="720">=</text>
<line x1="500" y1="717" x2="595" y2="717" stroke="#000" stroke-width="0.5"/>
<text x="546" y="712" text-anchor="middle" font-size="9">∑<tspan font-size="6" class="i">(p,g)∈TP</tspan> IoU(<tspan class="i">p</tspan>, <tspan class="i">g</tspan>)</text>
<text x="547.5" y="727" text-anchor="middle" font-size="9" class="i">|TP| + ½|FP| + ½|FN|</text>
</g>
<g stroke="#000" fill="none">
<path d="M617,568 H863 M617,665 H863" stroke-width="1"/>
<path d="M617,588 H863 M617,608 H863 M617,645 H863" stroke-width="0.7"/>
<path d="M714.6,578.8 H863" stroke-width="0.4"/>
<path d="M673,570 V663 M714.6,570 V663 M789,570 V663" stroke-width="0.4"/>
<path d="M739,580 V663 M764,580 V663 M813,580 V663 M838,580 V663" stroke-width="0.3"/>
</g>
<g class="tb" text-anchor="middle">
<text x="644" y="585">Methods</text><text x="693.6" y="585">Backbone</text>
<text x="751.8" y="576.5" class="i">val-set</text><text x="825.8" y="576.5" class="i">test-set</text>
<text x="726.8" y="585.5">mIoU</text><text x="751.8" y="585.5">mAcc</text><text x="776.7" y="585.5">RI</text><text x="800.9" y="585.5">mIoU</text><text x="825.8" y="585.5">mAcc</text><text x="850.3" y="585.5">RI</text>
<text x="644" y="596.5">DFPR <tspan style="fill:#0c0">[39]</tspan></text><text x="693.6" y="596.5">VGG-16</text><text x="726.8" y="596.5">49.68</text><text x="751.8" y="596.5">60.37</text><text x="776.7" y="596.5">38.44</text><text x="800.9" y="596.5">47.73</text><text x="825.8" y="596.5">58.68</text><text x="850.3" y="596.5">38.57</text>
<text x="644" y="605">Ours</text><text x="693.6" y="605">–</text><text x="726.8" y="605">60.27</text><text x="751.8" y="605">72.32</text><text x="776.7" y="605">66.89</text><text x="800.9" y="605">57.48</text><text x="825.8" y="605">69.89</text><text x="850.3" y="605">64.09</text>
<text x="644" y="617">DeepLabV3+ <tspan style="fill:#0c0">[6]</tspan></text><text x="693.6" y="617">ResNet-50</text><text x="726.8" y="617">60.46</text><text x="751.8" y="617">73.18</text><text x="776.7" y="617">38.41</text><text x="800.9" y="617">58.18</text><text x="825.8" y="617">71.75</text><text x="850.3" y="617">35.16</text>
<text x="644" y="625.2">DNL <tspan style="fill:#0c0">[36]</tspan></text><text x="693.6" y="625.2">–</text><text x="726.8" y="625.2">59.61</text><text x="751.8" y="625.2">72.15</text><text x="776.7" y="625.2">42.38</text><text x="800.9" y="625.2">55.29</text><text x="825.8" y="625.2">68.36</text><text x="850.3" y="625.2">40.49</text>
<text x="644" y="633.5">UperNet <tspan style="fill:#0c0">[35]</tspan></text><text x="693.6" y="633.5">–</text><text x="726.8" y="633.5">59.31</text><text x="751.8" y="633.5">72.22</text><text x="776.7" y="633.5">45.90</text><text x="800.9" y="633.5">57.04</text><text x="825.8" y="633.5">70.50</text><text x="850.3" y="633.5">44.71</text>
<text x="644" y="641.5">Ours</text><text x="693.6" y="641.5">–</text><g class="b"><text x="726.8" y="641.5">63.09</text><text x="751.8" y="641.5">75.48</text><text x="776.7" y="641.5">69.74</text><text x="800.9" y="641.5">61.35</text><text x="825.8" y="641.5">74.45</text><text x="850.3" y="641.5">67.99</text></g>
<text x="644" y="653.5">OCRNet <tspan style="fill:#0c0">[38]</tspan></text><text x="693.6" y="653.5">ResNet-101</text><text x="726.8" y="653.5">60.44</text><text x="751.8" y="653.5">72.94</text><text x="776.7" y="653.5">43.99</text><text x="800.9" y="653.5">57.13</text><text x="825.8" y="653.5">70.62</text><text x="850.3" y="653.5">41.89</text>
<text x="644" y="662.2">Ours</text><text x="693.6" y="662.2">–</text><g class="b"><text x="726.8" y="662.2">64.36</text><text x="751.8" y="662.2">76.98</text><text x="776.7" y="662.2">69.55</text><text x="800.9" y="662.2">62.49</text><text x="825.8" y="662.2">75.48</text><text x="850.3" y="662.2">67.51</text></g>
</g>
<g stroke="#000" fill="none">
<path d="M600.6,686 H863 M600.6,770.5 H863" stroke-width="1"/>
<path d="M600.6,708 H863 M600.6,748.5 H863" stroke-width="0.7"/>
<path d="M600.6,697.8 H782.6" stroke-width="0.4"/>
<path d="M706.7,688 V768 M782.6,688 V768 M809.5,688 V768 M837.3,688 V768" stroke-width="0.35"/>
</g>
<g class="tb" text-anchor="middle">
<text x="652.5" y="695.5">Vertex Embedding</text><text x="744.6" y="695.5">Architecture</text>
<text x="609.7" y="704.3">pos.</text><text x="644" y="704.3">vertex samp.</text><text x="686.9" y="704.3">backbone</text><text x="724" y="704.3">p-stream</text><text x="762" y="704.3">GAT Ours</text>
<text x="796" y="699.5">mIoU</text><text x="823.4" y="699.5">mAcc</text><text x="850" y="699.5">RI</text>
<text x="796" y="717">45.92</text><text x="823.4" y="717">60.30</text><text x="850" y="717">53.45</text>
<text x="796" y="726">59.01</text><text x="823.4" y="726">73.29</text><text x="850" y="726">65.12</text>
<text x="796" y="735.3">61.32</text><text x="823.4" y="735.3">75.03</text><text x="850" y="735.3">67.35</text>
<text x="796" y="744.3">75.60</text><text x="823.4" y="744.3">85.34</text><text x="850" y="744.3">81.03</text>
<text x="796" y="757.1">77.08</text><text x="823.4" y="757.1">85.77</text><text x="850" y="757.1">83.04</text>
<text x="796" y="766.4">79.77</text><text x="823.4" y="766.4">88.41</text><text x="850" y="766.4">84.67</text>
<text x="609.7" y="726">✓</text>
<text x="609.7" y="735.3">✓</text><text x="644" y="735.3">✓</text>
<text x="609.7" y="744.3">✓</text><text x="644" y="744.3">✓</text><text x="686.9" y="744.3">✓</text>
<text x="609.7" y="757.1">✓</text><text x="644" y="757.1">✓</text><text x="686.9" y="757.1">✓</text><text x="724" y="757.1">✓</text>
<text x="609.7" y="766.4">✓</text><text x="644" y="766.4">✓</text><text x="686.9" y="766.4">✓</text><text x="724" y="766.4">✓</text><text x="762" y="766.4">✓</text>
</g>

<g transform="translate(868.6,562.2) scale(0.1385)">
 <rect x="222" y="43" width="468" height="372" fill="#fff" stroke="#777" stroke-width="4"/>
 <path d="M278,100 H638 V355 H278z M533,100 V228 M465,228 H533 M585,228 H638 M468,228 V355 M570,298 V355" fill="none" stroke="#000" stroke-width="9"/>
 <path d="M425,280 Q440,240 470,250 M475,295 Q490,245 520,260 Q535,245 565,260 M640,305 Q675,305 680,340" fill="none" stroke="#000" stroke-width="3"/>
 <rect x="838" y="43" width="469" height="372" fill="#fff" stroke="#555" stroke-width="4"/>
 <rect x="893" y="100" width="357" height="253" fill="#e0fbbf" stroke="#000" stroke-width="8"/>
 <rect x="1148" y="100" width="102" height="128" fill="#b8fcfc" stroke="#000" stroke-width="7"/>
 <rect x="1082" y="228" width="168" height="125" fill="#fda35e" stroke="#000" stroke-width="7"/>
 <rect x="1082" y="298" width="103" height="55" fill="#bfbfdf" stroke="#000" stroke-width="7"/>
 <g id="vr">
  <rect x="10" y="455" width="468" height="373" fill="#fff" stroke="#555" stroke-width="4"/>
  <rect x="63" y="513" width="362" height="254" fill="#e0fbbf" stroke="#000" stroke-width="8"/>
  <rect x="320" y="513" width="105" height="125" fill="#b8fcfc" stroke="#000" stroke-width="7"/>
  <rect x="508" y="455" width="465" height="373" fill="#fff" stroke="#4caf50" stroke-width="5"/>
  <g fill="none" stroke="#3c9a3c" stroke-width="5"><rect x="560" y="513" width="365" height="254"/><rect x="570" y="520" width="345" height="240"/><rect x="818" y="513" width="107" height="125"/><rect x="750" y="638" width="165" height="129"/><rect x="770" y="710" width="88" height="57"/></g>
  <g fill="none" stroke="#6688ee" stroke-width="4"><path d="M545,638 L650,515 L800,490 L915,545 L940,665 L920,760 L785,790 L705,715 Z M545,638 L745,760 M650,515 L800,575 L760,715 L915,545 M800,490 L820,640 L705,715 M650,515 L690,715 M820,640 L940,665 M760,715 L880,750"/></g>
  <path d="M535,485 H950 V800 H535z" fill="none" stroke="#b0c4f0" stroke-width="3"/>
  <rect x="735" y="605" width="227" height="203" fill="none" stroke="#000" stroke-width="4" stroke-dasharray="14 8"/>
  <path d="M735,605 L1065,450 M962,808 L1537,780" stroke="#000" stroke-width="3" stroke-dasharray="10 6"/>
  <rect x="1065" y="450" width="472" height="330" fill="#fff" stroke="#000" stroke-width="7"/>
  <g fill="none" stroke="#1a8a1a" stroke-width="7"><path d="M1075,460 H1460 V745 H1075 M1095,470 H1450 V735 H1095 M1095,612 H1318 V730 M1095,625 H1305 V720"/></g>
  <g fill="none" stroke="#4466dd" stroke-width="6"><path d="M1075,570 L1215,460 L1445,520 L1420,735 L1370,700 L1180,552 L1075,740 L1290,645 L1420,735 M1215,460 L1130,650 L1180,690 L1075,700 M1445,520 L1500,520 L1515,775 M1180,552 L1290,535 L1400,515 M1075,730 L1300,700"/></g>
 </g>
 <rect x="255" y="638" width="170" height="129" fill="#fda35e" stroke="#000" stroke-width="7"/>
 <rect x="255" y="710" width="102" height="57" fill="#bfbfdf" stroke="#000" stroke-width="7"/>
 <rect x="240" y="605" width="207" height="192" fill="none" stroke="#f00" stroke-width="7"/>
 <path d="M0,898 H1568" stroke="#000" stroke-width="5" stroke-dasharray="30 15"/>
 <use href="#vr" transform="translate(0,512)"/>
 <rect x="255" y="1150" width="170" height="129" fill="#e0fbbf" stroke="#000" stroke-width="7"/>
 <rect x="255" y="1222" width="102" height="57" fill="#bfbfdf" stroke="#000" stroke-width="7"/>
 <rect x="240" y="1117" width="207" height="192" fill="none" stroke="#f00" stroke-width="7"/>
 <path d="M508,969 H973 M508,1339 H973" stroke="#f08080" stroke-width="4"/>
 <rect x="105" y="1410" width="1335" height="68" fill="url(#cb)" stroke="#999" stroke-width="2"/>
</g>
<g font-size="3" text-anchor="middle" style="fill:#333">
<text x="883.1" y="771.5">0.0</text><text x="903.7" y="771.5">28.4</text><text x="924.2" y="771.5">56.9</text><text x="944.8" y="771.5">85.3</text><text x="965.3" y="771.5">113.8</text><text x="985.8" y="771.5">142.2</text><text x="1006.3" y="771.5">170.7</text><text x="1026.9" y="771.5">199.1</text><text x="1047.4" y="771.5">227.6</text><text x="1068" y="771.5">256.0</text>
</g>

<!-- ================= CONTRIBUTIONS PANEL ================= -->
<path d="M1097,528 Q1097,514 1111,514 L1536,514 Q1550,514 1550,528 L1550,766 Q1550,780 1536,780 L1111,780 Q1097,780 1097,766z" fill="#fff" stroke="#777" stroke-width="0.8"/>
<path d="M1097,528 Q1097,514 1111,514 L1536,514 Q1550,514 1550,528 L1550,545.6 L1097,545.6z" fill="#30569a"/>
<text x="1208.3" y="536" class="h" textLength="230" lengthAdjust="spacingAndGlyphs">Contributions &amp; Conclusions</text>
<g font-size="12.3">
<text x="1104" y="564.6" font-size="10.5">➢</text>
<text x="1117.7" y="564.6" textLength="425" lengthAdjust="spacingAndGlyphs">We approach semantic segmentation of vectorized roughcast floorplans through the</text>
<text x="1117.7" y="579.3" textLength="338.7" lengthAdjust="spacingAndGlyphs">dual aspects of boundary line classification and region classification.</text>
<text x="1104" y="603.2" font-size="10.5">➢</text>
<text x="1117.7" y="603.2" textLength="425" lengthAdjust="spacingAndGlyphs">We design two-stream graph neural networks to process dual regions and primal lines</text>
<text x="1117.7" y="618.3" textLength="425" lengthAdjust="spacingAndGlyphs">respectively, and devise a novel modulated GAT layer to exchange data   across</text>
<text x="1117.7" y="633" textLength="38.7" lengthAdjust="spacingAndGlyphs">streams.</text>
<text x="1104" y="656.9" font-size="10.5">➢</text>
<text x="1121.3" y="656.9" textLength="421.5" lengthAdjust="spacingAndGlyphs">We propose a new metric, room integrity (RI), to capture both accuracy and integrity</text>
<text x="1117.7" y="671.4" textLength="134" lengthAdjust="spacingAndGlyphs">of the segmentation results.</text>
<text x="1104" y="695.3" font-size="10.5">➢</text>
<text x="1117.7" y="695.3" textLength="425" lengthAdjust="spacingAndGlyphs">We obtain vector segmentation results on two floorplan datasets, which show much</text>
<text x="1117.7" y="710" textLength="382.5" lengthAdjust="spacingAndGlyphs">more compact boundaries and better integrity than raster image-based results.</text>
<text x="1104" y="733.9" font-size="10.5">➢</text>
<text x="1117.7" y="733.9" textLength="425" lengthAdjust="spacingAndGlyphs">Considering the importance of vector graphics for industrial design, we hope this</text>
<text x="1117.7" y="748.6" textLength="425" lengthAdjust="spacingAndGlyphs">work can inspire future research on vector graphics based deep learning for</text>
<text x="1117.7" y="763.1" textLength="200" lengthAdjust="spacingAndGlyphs">intelligent industrial design and analysis.</text>
</g>
</svg>
</body></html>
